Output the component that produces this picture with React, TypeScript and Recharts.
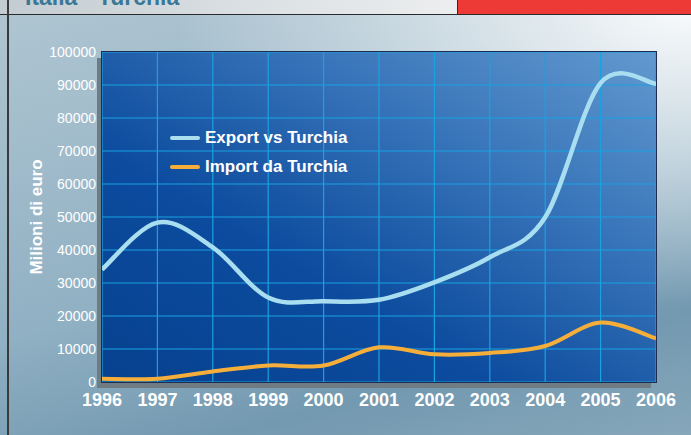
import React from 'react';
import { LineChart, Line, XAxis, YAxis, CartesianGrid } from 'recharts';

const years = [1996, 1997, 1998, 1999, 2000, 2001, 2002, 2003, 2004, 2005, 2006];
const exportValues = [34100, 48300, 40800, 25600, 24500, 24900, 30200, 37800, 49900, 90600, 90400];
const importValues = [1000, 1000, 3200, 5000, 5000, 10500, 8400, 8800, 10900, 18000, 13200];
const yTicks = [0, 10000, 20000, 30000, 40000, 50000, 60000, 70000, 80000, 90000, 100000];
const seriesNames = ['Export vs Turchia', 'Import da Turchia'];

const W = 691;
const H = 435;
const M = { top: 52, right: 35, bottom: 23, left: 8 };
const Y_AXIS_W = 94;
const X_AXIS_H = 30;
const PLOT = {
  x: M.left + Y_AXIS_W,
  y: M.top,
  w: W - M.left - M.right - Y_AXIS_W,
  h: H - M.top - M.bottom - X_AXIS_H,
};

const EXPORT_COLOR = '#a9def0';
const IMPORT_COLOR = '#f6ae3b';
const SERIES_COLORS = [EXPORT_COLOR, IMPORT_COLOR];
const FONT = '"Liberation Sans", Arial, Helvetica, sans-serif';

const data = years.map((year, i) => ({
  year,
  export: exportValues[i],
  import: importValues[i],
}));

// spreadsheet-style smoothing (Catmull-Rom bezier through every point)
const smoothCurve = (context: any) => {
  let xs: number[] = [];
  let ys: number[] = [];
  return {
    areaStart() {},
    areaEnd() {},
    lineStart() {
      xs = [];
      ys = [];
    },
    point(x: number, y: number) {
      xs.push(+x);
      ys.push(+y);
    },
    lineEnd() {
      const n = xs.length;
      if (!n) return;
      context.moveTo(xs[0], ys[0]);
      for (let i = 0; i < n - 1; i++) {
        const a = i > 0 ? i - 1 : i;
        const d = i + 2 < n ? i + 2 : i + 1;
        context.bezierCurveTo(
          xs[i] + (xs[i + 1] - xs[a]) / 6,
          ys[i] + (ys[i + 1] - ys[a]) / 6,
          xs[i + 1] - (xs[d] - xs[i]) / 6,
          ys[i + 1] - (ys[d] - ys[i]) / 6,
          xs[i + 1],
          ys[i + 1]
        );
      }
    },
  };
};

const LegendBox = () => (
  <div
    style={{
      position: 'absolute',
      left: 170,
      top: 123,
      fontFamily: FONT,
      fontWeight: 'bold',
      fontSize: 17,
      color: '#fff',
    }}
  >
    {seriesNames.map((name, i) => (
      <div key={name} style={{ display: 'flex', alignItems: 'center', height: 29 }}>
        <span
          style={{
            display: 'inline-block',
            width: 30,
            height: 4,
            borderRadius: 2,
            background: SERIES_COLORS[i],
            marginRight: 5,
          }}
        />
        {name}
      </div>
    ))}
  </div>
);

export default function App() {
  return (
    <div
      style={{
        position: 'absolute',
        left: 0,
        top: 0,
        width: W,
        height: H,
        overflow: 'hidden',
        fontFamily: FONT,
        background:
          'radial-gradient(ellipse 75% 70% at 100% 0%, rgba(250,252,253,1) 0%, rgba(240,244,246,0.8) 30%, rgba(255,255,255,0) 100%), linear-gradient(165deg, #b0c6d2 0%, #90b0c3 55%, #7399b0 80%, #86a7ba 100%)',
      }}
    >
      {/* header strip */}
      <div
        style={{
          position: 'absolute',
          left: 0,
          top: 0,
          width: W,
          height: 14,
          background: 'linear-gradient(90deg, #c3ccd1 0%, #dde2e5 40%, #eeeff0 70%)',
          borderBottom: '1px solid #2a2a2a',
          overflow: 'hidden',
        }}
      >
        <div
          style={{
            position: 'absolute',
            left: 25,
            top: -16,
            fontSize: 23,
            fontWeight: 'bold',
            color: '#3a7896',
            whiteSpace: 'nowrap',
          }}
        >
          Italia - Turchia
        </div>
        <div
          style={{
            position: 'absolute',
            left: 457,
            top: 0,
            width: W - 457,
            height: 14,
            background: '#ee3a36',
            borderLeft: '1px solid #2a2a2a',
          }}
        />
      </div>
      <div style={{ position: 'absolute', left: 7, top: 0, width: 2, height: H, background: '#3a3a3a' }} />

      {/* plot shadow */}
      <div
        style={{
          position: 'absolute',
          left: PLOT.x - 5,
          top: PLOT.y + 6,
          width: PLOT.w,
          height: PLOT.h,
          background: '#6f7c84',
        }}
      />

      <div style={{ position: 'absolute', left: 0, top: 0 }}>
        <LineChart width={W} height={H} data={data} margin={M}>
          <defs>
            <linearGradient id="plotBg" x1="0" y1="1" x2="1" y2="0">
              <stop offset="0%" stopColor="#07418f" />
              <stop offset="35%" stopColor="#0c4b9e" />
              <stop offset="70%" stopColor="#3a76ba" />
              <stop offset="100%" stopColor="#6299cf" />
            </linearGradient>
          </defs>
          <CartesianGrid
            stroke="#19a2e2"
            strokeWidth={1.2}
            fill="url(#plotBg)"
            fillOpacity={1}
            horizontalValues={yTicks}
            verticalValues={years}
          />
          <XAxis
            dataKey="year"
            type="number"
            domain={[1996, 2006]}
            ticks={years}
            height={X_AXIS_H}
            axisLine={false}
            tickLine={false}
            tickSize={0}
            tickMargin={11}
            interval={0}
            tick={{ fill: '#fff', fontSize: 18, fontWeight: 'bold', fontFamily: FONT }}
          />
          <YAxis
            type="number"
            domain={[0, 100000]}
            ticks={yTicks}
            width={Y_AXIS_W}
            axisLine={false}
            tickLine={false}
            tickSize={0}
            tickMargin={6}
            interval={0}
            tick={{ fill: '#fff', fontSize: 14, fontFamily: FONT }}
            label={{
              value: 'Milioni di euro',
              angle: -90,
              position: 'insideLeft',
              offset: 28,
              style: { fill: '#fff', fontSize: 17, fontWeight: 'bold', fontFamily: FONT, textAnchor: 'middle' },
            }}
          />
          <Line
            dataKey="export"
            name={seriesNames[0]}
            type={smoothCurve as any}
            stroke={EXPORT_COLOR}
            strokeWidth={4.5}
            dot={false}
            activeDot={false}
            isAnimationActive={false}
          />
          <Line
            dataKey="import"
            name={seriesNames[1]}
            type={smoothCurve as any}
            stroke={IMPORT_COLOR}
            strokeWidth={4}
            dot={false}
            activeDot={false}
            isAnimationActive={false}
          />
        </LineChart>
      </div>

      {/* plot border */}
      <div
        style={{
          position: 'absolute',
          left: PLOT.x - 1,
          top: PLOT.y - 1,
          width: PLOT.w,
          height: PLOT.h,
          border: '1px solid #1d2c50',
          pointerEvents: 'none',
        }}
      />

      <LegendBox />
    </div>
  );
}
